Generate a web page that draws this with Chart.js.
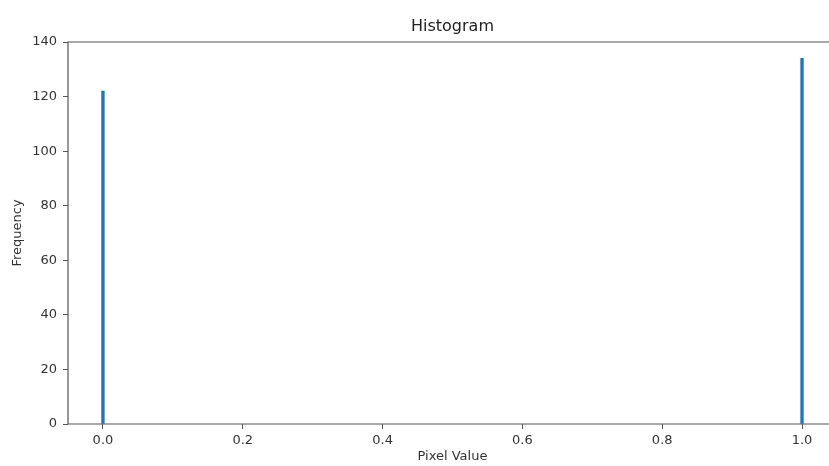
<!DOCTYPE html>
<html>
<head>
<meta charset="utf-8">
<script src="https://cdn.jsdelivr.net/npm/chart.js@4/dist/chart.umd.min.js"></script>
<style>
  html, body { margin: 0; padding: 0; background: #fff; overflow: hidden; }
  #wrap { width: 829px; height: 466px; }
</style>
</head>
<body>
<div id="wrap"><canvas id="chart"></canvas></div>
<script>
// ================= DATA =================
const pixelValues = [0, 1];
const frequencies = [122, 134];
const xTicks = [0, 0.2, 0.4, 0.6, 0.8, 1.0];
const yTicks = [0, 20, 40, 60, 80, 100, 120, 140];
const chartTitle = "Histogram";
const xLabel = "Pixel Value";
const yLabel = "Frequency";

const FONT = "'DejaVu Sans', sans-serif";
const INK = "#333";

// matplotlib style spines (right one is cut off in the picture) + titles
const frame = {
  id: "frame",
  afterDraw(chart) {
    const { ctx, chartArea: a } = chart;
    ctx.save();
    ctx.strokeStyle = "#555";
    ctx.lineWidth = 1.2;
    ctx.beginPath();
    ctx.moveTo(a.right + 2, a.top);
    ctx.lineTo(a.left, a.top);
    ctx.lineTo(a.left, a.bottom);
    ctx.lineTo(a.right + 2, a.bottom);
    ctx.stroke();

    // titles sit over the centre of the full (uncropped) axes
    const cx = chart.scales.x.getPixelForValue(0.5);
    ctx.textAlign = "center";
    ctx.textBaseline = "middle";
    ctx.fillStyle = "#222";
    ctx.font = "16px " + FONT;
    ctx.fillText(chartTitle, cx, 27);
    ctx.fillStyle = INK;
    ctx.font = "13px " + FONT;
    ctx.fillText(xLabel, cx, 457);
    ctx.restore();
  }
};

const ctx = document.getElementById("chart").getContext("2d");

new Chart(ctx, {
  type: "bar",
  data: {
    datasets: [{
      label: yLabel,
      data: pixelValues.map((x, i) => ({ x: x, y: frequencies[i] })),
      backgroundColor: "#1f77b4",
      borderWidth: 0,
      barThickness: 2.7
    }]
  },
  options: {
    responsive: true,
    maintainAspectRatio: false,
    animation: false,
    layout: { padding: { left: 0, right: 0, top: 42, bottom: 0 } },
    plugins: {
      legend: { display: false },
      tooltip: { enabled: false },
      title: { display: false }
    },
    scales: {
      x: {
        type: "linear",
        offset: false,
        min: -0.05,
        max: 1.0386,
        afterBuildTicks: (s) => { s.ticks = xTicks.map(v => ({ value: v })); },
        afterFit: (s) => { s.height = 42; },
        grid: { display: true, offset: false, drawOnChartArea: false, drawTicks: true, tickLength: 5, color: "#555" },
        border: { display: false },
        ticks: {
          color: INK,
          padding: 4,
          font: { family: FONT, size: 13 },
          callback: (v) => v.toFixed(1)
        },
        title: { display: false }
      },
      y: {
        min: 0,
        max: 140,
        afterBuildTicks: (s) => { s.ticks = yTicks.map(v => ({ value: v })); },
        afterFit: (s) => { s.width = 68; },
        grid: { display: true, drawOnChartArea: false, drawTicks: true, tickLength: 5, color: "#555" },
        border: { display: false },
        ticks: {
          color: INK,
          padding: 6,
          font: { family: FONT, size: 13 }
        },
        title: {
          display: true,
          text: yLabel,
          color: INK,
          font: { family: FONT, size: 13 },
          padding: { top: 10, bottom: 0 }
        }
      }
    }
  },
  plugins: [frame]
});
</script>
</body>
</html>
